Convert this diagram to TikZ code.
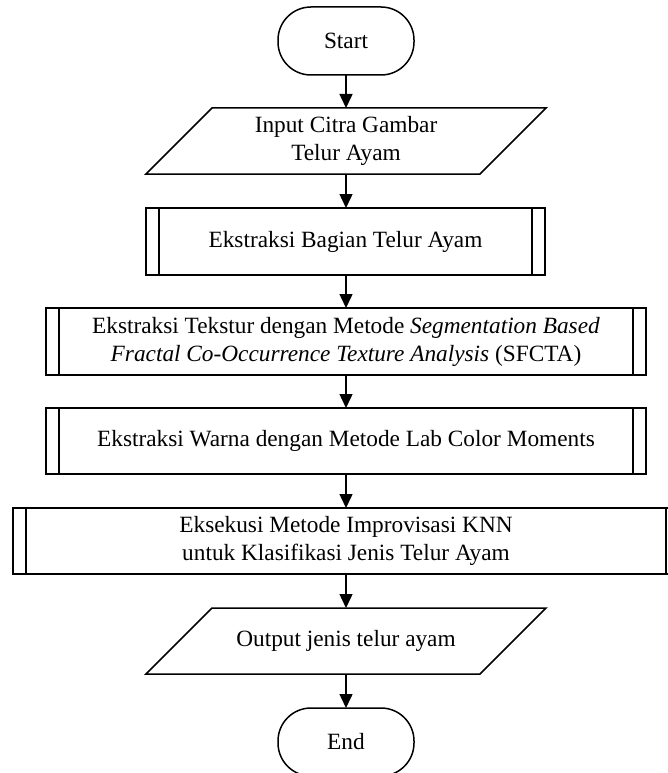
\documentclass[tikz,border=0pt]{standalone}
\usepackage{fontspec}
\setmainfont{Liberation Serif}
\usetikzlibrary{arrows.meta}
\begin{document}
\begin{tikzpicture}[x=1pt,y=1pt,
  every node/.style={font=\fontsize{23.3}{28}\selectfont, align=center, outer sep=0pt, inner sep=0pt},
  lw/.style={line width=1.5pt},
  term/.style={lw, draw, rounded corners=33pt, minimum width=136pt, minimum height=68pt},
  iobox/.style={minimum width=400pt, minimum height=66pt},
  procbox/.style={lw, draw, minimum height=67pt},
  arr/.style={lw, -{Triangle[length=14pt,width=13pt]}}
]
\useasboundingbox (0,0) rectangle (668,-773);

\node[term] (start) at (346,-41) {Start};
\node[iobox] (in) at (346,-141) {Input Citra Gambar\\Telur Ayam};
\node[procbox, minimum width=399pt] (b1) at (345.5,-241.5) {Ekstraksi Bagian Telur Ayam};
\node[procbox, minimum width=600pt] (b2) at (346,-341.5) {Ekstraksi Tekstur dengan Metode \textit{Segmentation Based}\\\textit{Fractal Co-Occurrence Texture Analysis} (SFCTA)};
\node[procbox, minimum width=600pt, minimum height=66pt] (b3) at (346,-441) {Ekstraksi Warna dengan Metode Lab Color Moments};
\node[procbox, minimum width=666pt, minimum height=66pt] (b4) at (346,-541) {Eksekusi Metode Improvisasi KNN\\untuk Klasifikasi Jenis Telur Ayam};
\node[iobox] (out) at (346,-641) {Output jenis telur ayam};
\node[term] (end) at (346,-742) {End};

% parallelograms
\foreach \n in {in,out}{
  \draw[lw] ([xshift=66pt]\n.north west) -- (\n.north east) -- ([xshift=-66pt]\n.south east) -- (\n.south west) -- cycle;
}
% predefined process inner lines
\foreach \n in {b1,b2,b3,b4}{
  \draw[lw] ([xshift=13pt]\n.north west) -- ([xshift=13pt]\n.south west);
  \draw[lw] ([xshift=-13pt]\n.north east) -- ([xshift=-13pt]\n.south east);
}

\draw[arr] (start) -- (in);
\draw[arr] (in) -- (in |- b1.north);
\draw[arr] (b1.south -| b2) -- (b2);
\draw[arr] (b2) -- (b3);
\draw[arr] (b3) -- (b4);
\draw[arr] (b4) -- (out);
\draw[arr] (out) -- (end);
\end{tikzpicture}
\end{document}
